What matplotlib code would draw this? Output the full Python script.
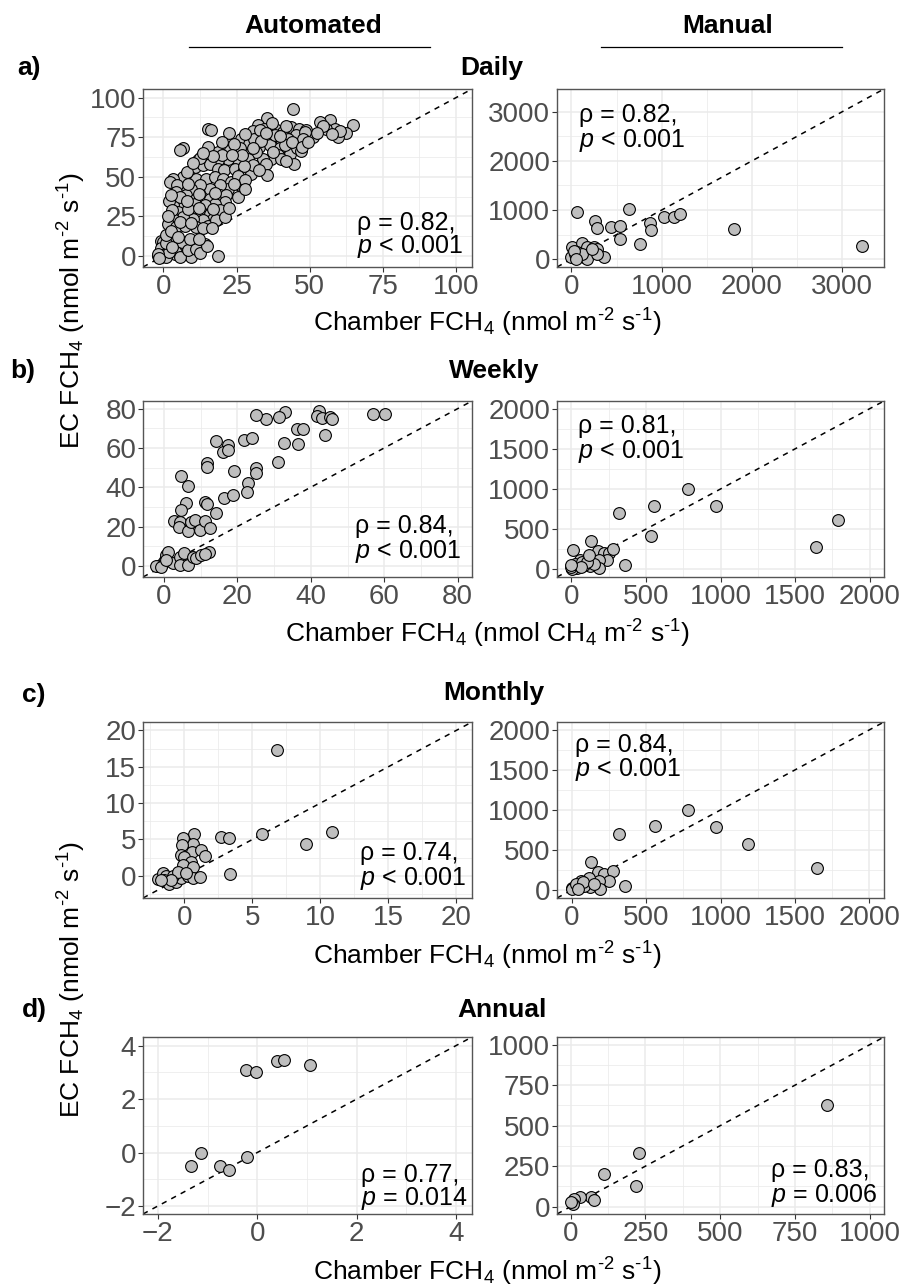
import matplotlib
matplotlib.use("Agg")
import matplotlib.pyplot as plt
from matplotlib.lines import Line2D

plt.rcParams.update({
    "font.family": ["Liberation Sans", "DejaVu Sans"],
    "mathtext.fontset": "custom",
    "mathtext.rm": "Liberation Sans",
    "mathtext.it": "Liberation Sans:italic",
    "mathtext.bf": "Liberation Sans:bold",
    "mathtext.sf": "Liberation Sans",
    "axes.unicode_minus": True,
})

# ---------------- data ----------------
# Daily, automated chambers
daily_auto_x = [44.2, 35.5, 32.3, 30.6, 34.5, 38.0, 40.8, 43.6, 46.5, 48.8, 50.5, 45.3, 42.5, 39.7, 36.8, 33.4, 26.6, 22.3, 15.2, 16.4,
                56.8, 53.4, 64.8, 62.5, 59.7, 58.5, 55.7, 51.1, 48.3, 46.6, 47.7, 60.5, 57.5, 54.5,
                29.4, 32.8, 36.3, 39.7, 43.1, 39.1, 36.8, 34.0, 31.7, 44.8, 40.2, 35.1, 28.9, 26.0, 22.6, 18.6, 15.2, 41.5, 45.5, 47.0,
                44.0, 38.0, 31.0, 28.0, 24.0, 20.0, 42.0, 37.0, 33.0, 6.7, 5.6,
                25.5, 22.0, 18.6, 15.2, 11.8, 10.7, 13.5, 15.8, 18.6, 20.7, 24.3, 27.2, 30.1, 30.6, 35.3, 32.8, 12.5, 20.0, 27.5,
                9.0, 6.7, 3.3, 2.2, 11.25, 14.7, 17.5, 20.3, 23.2, 26.0, 22.0, 19.2, 15.8, 12.4, 9.5, 6.7, 25.5, 28.0, 8.0, 4.5,
                4.4, 7.8, 11.25, 15.8, 19.2, 21.5, 25.5, 21.0, 17.5, 14.1, 10.7, 6.7, 3.3, 2.7, 5.0, 9.0, 13.0, 15.8, 19.2, 16.9,
                13.5, 10.1, 6.7, 3.3, 1.6, 4.4, 7.3, 11.25, 15.2, 18.1, 20.9, 2.0, 8.5, 12.0, 17.0, 3.0, 5.5, 9.5, 13.5, 16.5,
                -0.7, 0.0, -1.25, -1.8, -0.7, 0.45, 1.6, 2.7, 3.9, 3.9, 5.6, 7.3, 7.8, 10.1, 9.0, 11.25, 13.0, 14.1, 9.5, 5.6,
                18.6, -0.3, 0.3, -1.0, -0.5, 0.8, 2.0, 1.0, 6.5, 8.5, 11.0, 12.5, 15.0, 3.0, -2.0, -1.5,
                1.0, 2.5, 5.0, 9.0, 12.0, 37.5, 42.0, 33.5, 30.5, 47.5, 49.5, 52.5, 40.0, 35.0, 27.0, 23.5, 17.0, 13.5,
                10.0, 8.5, 5.5, 2.5, 24.0, 28.0, 22.5, 17.5, 12.0, 1.5, 8.0]
daily_auto_y = [92.6, 86.9, 82.7, 78.9, 80.5, 80.5, 78.4, 81.6, 80.5, 79.5, 75.3, 76.3, 74.2, 72.1, 74.2, 76.3, 74.2, 77.8, 80.1, 79.5,
                85.8, 84.8, 82.7, 77.4, 75.3, 80.5, 80.5, 75.3, 78.4, 71.0, 74.2, 79.0, 77.0, 82.0,
                71.0, 68.9, 70.0, 67.9, 64.7, 63.6, 61.5, 61.5, 65.8, 58.4, 61.5, 58.4, 61.5, 67.9, 66.8, 65.8, 68.9, 70.0, 68.5, 66.0,
                72.0, 76.5, 74.0, 77.0, 70.5, 72.0, 82.0, 84.0, 79.5, 67.9, 66.8,
                60.5, 61.5, 60.5, 60.5, 60.5, 56.2, 57.3, 58.4, 55.2, 54.1, 55.2, 53.1, 52.0, 57.3, 51.4, 54.1, 62.0, 63.5, 57.0,
                49.9, 49.9, 48.8, 46.7, 48.8, 48.8, 49.9, 48.8, 46.7, 44.6, 42.5, 44.6, 42.5, 44.6, 42.5, 42.5, 50.5, 48.0, 53.0, 45.0,
                40.4, 38.3, 36.2, 36.2, 38.3, 38.3, 37.2, 34.0, 33.0, 31.9, 33.0, 31.9, 31.9, 26.6, 27.7, 26.6, 27.7, 26.6, 28.8, 23.5,
                22.4, 23.5, 24.5, 23.5, 20.3, 18.2, 19.2, 18.2, 19.2, 22.4, 24.5, 35.0, 29.5, 30.0, 29.5, 29.0, 21.5, 20.5, 17.5, 17.5,
                9.7, 6.6, 2.3, 0.2, -0.8, 1.3, 4.4, 7.6, 9.7, 1.3, 4.4, 6.6, 1.3, 2.3, 6.6, 7.6, 5.5, 7.6, -0.8, -0.8,
                0.2, 8.5, 3.5, 5.0, 0.5, -0.5, 2.5, 8.0, 8.5, 4.0, 4.5, 2.0, 6.0, 5.5, 1.5, -1.0,
                13.0, 15.5, 12.0, 11.0, 10.5, 65.5, 60.0, 72.5, 68.0, 69.0, 72.0, 78.0, 76.0, 78.0, 64.0, 63.5, 63.0, 65.0,
                58.5, 45.5, 37.0, 38.5, 45.5, 42.0, 30.5, 39.5, 39.0, 25.0, 35.0]

# Daily, manual chambers
daily_man_x = [66, 638, 262, 280, 443, 539, 539, 756, 871, 878, 1026, 1137, 1203, 1801, 3221,
               11, 0, 37, 85, 122, 177, 214, 251, 288, 362, 66, 140, 177, 122, 30, 48, 288, 232]
daily_man_y = [954, 1022, 784, 627, 648, 675, 409, 307, 736, 593, 852, 852, 920, 607, 273,
               239, 34, 102, 170, 320, 239, 136, 239, 205, 48, 136, 34, 0, 102, 170, 0, 102, 205]

# Weekly, automated chambers
weekly_auto_x = [56.9, 60.3, 42.3, 41.6, 43.0, 45.3, 45.7, 43.9, 33.0, 31.4, 27.8, 25.0, 36.2, 37.8, 36.4, 32.7, 31.0,
                 21.9, 23.9, 14.1, 17.5, 16.1, 17.5, 11.6, 11.7, 19.1, 25.0, 25.0, 23.0, 22.7, 4.7, 6.6, 6.1, 4.7,
                 11.1, 11.7, 16.3, 18.7, 14.3, 2.7, 4.3, 4.1, 6.6, 7.3, 8.4, 9.7, 11.1, 12.5,
                 0.2, -0.3, -1.6, 0.5, 1.1, 2.5, 4.3, 5.6, 4.3, 6.6, 7.9, 8.8, 10.2, 12.3, 11.1, -2.1, -0.7, 0.6]
weekly_auto_y = [77.5, 77.2, 78.7, 76.3, 75.0, 75.8, 74.6, 66.5, 78.3, 75.8, 74.6, 76.6, 69.5, 69.5, 61.9, 62.3, 53.0,
                 64.3, 65.3, 63.5, 61.4, 58.0, 58.9, 52.1, 50.4, 48.4, 49.9, 47.4, 42.0, 37.7, 45.9, 40.8, 31.8, 28.4,
                 32.7, 31.3, 34.3, 36.0, 27.1, 23.0, 22.5, 19.6, 17.8, 22.5, 23.4, 18.3, 23.0, 19.5,
                 3.0, 1.4, 0.0, 5.6, 6.8, 1.4, 4.7, 6.4, 0.5, 0.5, 4.7, 3.9, 5.6, 6.8, 6.1, -0.3, -0.7, 3.0]

# Weekly, manual chambers
weekly_man_x = [780, 555, 970, 317, 531, 1643, 1788, 357, 132, 11, 60, 116, 178, 216, 250, 279, 239, 183, 188, 123,
                83, 38, 4, -2, 27, 72, 150, 105, 118, 62, -5]
weekly_man_y = [1000, 792, 788, 704, 417, 279, 613, 58, 358, 242, 113, 154, 229, 204, 196, 246, 113, 113, 17, 38,
                50, 21, 8, 29, 71, 92, 71, 92, 175, 29, 50]

# Monthly, automated chambers
monthly_auto_x = [6.81, 10.84, 8.93, 5.73, 2.70, 3.25, 3.32, 0.69, 0.66, -0.12, -0.17, 0.57, 1.23, 1.48, -0.25, -0.07, 0.49,
                  -0.12, 0.61, -1.97, -1.60, -1.35, -1.48, -1.11, -0.61, -0.25, -0.86, 0.25, 0.61, 1.11, -0.49, -0.98, -1.72, 0.12]
monthly_auto_y = [17.26, 5.98, 4.38, 5.75, 5.34, 5.21, 0.23, 5.71, 4.38, 5.16, 4.25, 3.33, 3.56, 2.74, 2.88, 2.65, 1.96,
                  1.51, 1.28, -0.41, 0.37, 0.00, -0.55, -1.14, -0.87, -0.32, -0.09, -0.09, -0.32, -0.18, 0.59, -0.55, -0.55, 0.37]

# Monthly, manual chambers
monthly_man_x = [782, 556, 972, 1184, 1647, 317, 358, 132, 179, 217, 279, 250, 183, 188, 116, 60, 123, 83, 4, -2, 27, 72, 150, 38]
monthly_man_y = [1000, 795, 782, 577, 276, 703, 54, 356, 230, 201, 243, 117, 109, 8, 151, 117, 33, 54, 25, 13, 75, 96, 75, 13]

# Annual, automated chambers
annual_auto_x = [-0.23, -0.03, 0.40, 0.54, 1.06, -1.14, -1.34, -0.76, -0.57, -0.21]
annual_auto_y = [3.07, 3.01, 3.42, 3.47, 3.26, -0.02, -0.52, -0.52, -0.67, -0.17]

# Annual, manual chambers
annual_man_x = [857, 227, 111, 217, 67, 78, 30, 10, 8, 2]
annual_man_y = [627, 330, 202, 130, 62, 41, 62, 45, 14, 27]

# Spearman statistics shown on each panel
rho_labels = ["0.82", "0.82", "0.84", "0.81", "0.74", "0.84", "0.77", "0.83"]
p_labels = ["< 0.001", "< 0.001", "< 0.001", "< 0.001", "< 0.001", "< 0.001", "= 0.014", "= 0.006"]

row_titles = ["Daily", "Weekly", "Monthly", "Annual"]
row_letters = ["a)", "b)", "c)", "d)"]
column_titles = ["Automated", "Manual"]

# Axis ranges and tick positions
limits = [(-7.0, 105.5), (-160, 3465), (-5.7, 83.9), (-97, 2097),
          (-3.05, 21.15), (-100, 2100), (-2.3, 4.32), (-46, 1048)]
major_ticks = [[0, 25, 50, 75, 100], [0, 1000, 2000, 3000], [0, 20, 40, 60, 80], [0, 500, 1000, 1500, 2000],
               [0, 5, 10, 15, 20], [0, 500, 1000, 1500, 2000], [-2, 0, 2, 4], [0, 250, 500, 750, 1000]]
minor_steps = [12.5, 500, 10, 250, 2.5, 250, 1, 125]

series = [(daily_auto_x, daily_auto_y), (daily_man_x, daily_man_y),
          (weekly_auto_x, weekly_auto_y), (weekly_man_x, weekly_man_y),
          (monthly_auto_x, monthly_auto_y), (monthly_man_x, monthly_man_y),
          (annual_auto_x, annual_auto_y), (annual_man_x, annual_man_y)]

# ---------------- layout (pixels) ----------------
W, H = 901, 1286
fig = plt.figure(figsize=(W / 100, H / 100), dpi=100)


def fx(px):
    return px / W


def fy(py):
    return 1 - py / H


col_x = [(143, 472), (557, 884)]
row_y = [(89, 267), (401, 577), (722, 898), (1037, 1214)]

# stats text position (axes fraction): x, baseline line 1, baseline line 2
stat_pos = [(0.650, 0.208, 0.079), (0.067, 0.815, 0.676),
            (0.644, 0.250, 0.108), (0.064, 0.820, 0.676),
            (0.660, 0.216, 0.074), (0.055, 0.831, 0.693),
            (0.663, 0.182, 0.051), (0.654, 0.209, 0.069)]

TICK_FS = 20
TITLE_FS = 19

for i, (xs, ys) in enumerate(series):
    r, c = divmod(i, 2)
    x0, x1 = col_x[c]
    y0, y1 = row_y[r]
    ax = fig.add_axes([fx(x0), fy(y1), (x1 - x0) / W, (y1 - y0) / H])
    lo, hi = limits[i]
    ax.set_xlim(lo, hi)
    ax.set_ylim(lo, hi)
    ticks = major_ticks[i]
    step = minor_steps[i]
    minors = []
    v = ticks[0] - step
    while v <= hi:
        if lo <= v and all(abs(v - t) > 1e-9 for t in ticks):
            minors.append(v)
        v += step
    ax.set_xticks(ticks)
    ax.set_yticks(ticks)
    ax.set_xticks(minors, minor=True)
    ax.set_yticks(minors, minor=True)
    ax.grid(which="major", color="#EBEBEB", lw=1.1, zorder=0)
    ax.grid(which="minor", color="#EBEBEB", lw=0.55, zorder=0)
    ax.set_axisbelow(True)
    ax.tick_params(which="major", length=3.3, width=0.8, color="#333333",
                   labelsize=TICK_FS, labelcolor="#4D4D4D", pad=1.5)
    ax.tick_params(which="minor", length=0)
    for s in ax.spines.values():
        s.set_color("#555555")
        s.set_linewidth(1.0)
    ax.axline((0, 0), slope=1, color="black", lw=1.1, ls=(0, (3.5, 3.5)), zorder=2)
    ax.scatter(xs, ys, s=72, facecolor="#BEBEBE", edgecolor="black", linewidths=0.8, zorder=3)
    sx, sy1, sy2 = stat_pos[i]
    ax.text(sx, sy1, "\u03c1 = " + rho_labels[i] + ",", transform=ax.transAxes,
            ha="left", va="baseline", fontsize=18, color="black", zorder=4)
    ax.text(sx, sy2, r"$\mathit{p}$ " + p_labels[i], transform=ax.transAxes,
            ha="left", va="baseline", fontsize=18, color="black", zorder=4)

# column headers with rules
for title, cx, (lx0, lx1) in zip(column_titles, [313.7, 727.5], [(189, 430), (600.7, 841.7)]):
    fig.text(fx(cx), fy(33), title, ha="center", va="baseline", fontsize=TITLE_FS, fontweight="bold")
    fig.add_artist(Line2D([fx(lx0), fx(lx1)], [fy(47), fy(47)], color="black", lw=0.9))

# row titles and panel letters
title_cx = [492, 494, 494, 502]
title_base = [75, 378, 700, 1017]
letter_x = [17, 10, 22, 22]
letter_base = [75, 378, 702, 1017]
for k in range(4):
    fig.text(fx(title_cx[k]), fy(title_base[k]), row_titles[k], ha="center", va="baseline",
             fontsize=TITLE_FS, fontweight="bold")
    fig.text(fx(letter_x[k]), fy(letter_base[k]), row_letters[k], ha="left", va="baseline",
             fontsize=TITLE_FS, fontweight="bold")

# axis titles
xlab = r"Chamber FCH$_4$ (nmol m$^{\text{-2}}$ s$^{\text{-1}}$)"
xlab_b = r"Chamber FCH$_4$ (nmol CH$_4$ m$^{\text{-2}}$ s$^{\text{-1}}$)"
for lab, base in zip([xlab, xlab_b, xlab, xlab], [332, 643, 965, 1281]):
    fig.text(fx(487), fy(base), lab, ha="center", va="baseline", fontsize=TITLE_FS)

ylab = r"EC FCH$_4$ (nmol m$^{\text{-2}}$ s$^{\text{-1}}$)"
for cy in [311, 980]:
    fig.text(fx(72), fy(cy), ylab, ha="center", va="center", rotation=90, fontsize=TITLE_FS)

fig.savefig("out.png", dpi=100)
